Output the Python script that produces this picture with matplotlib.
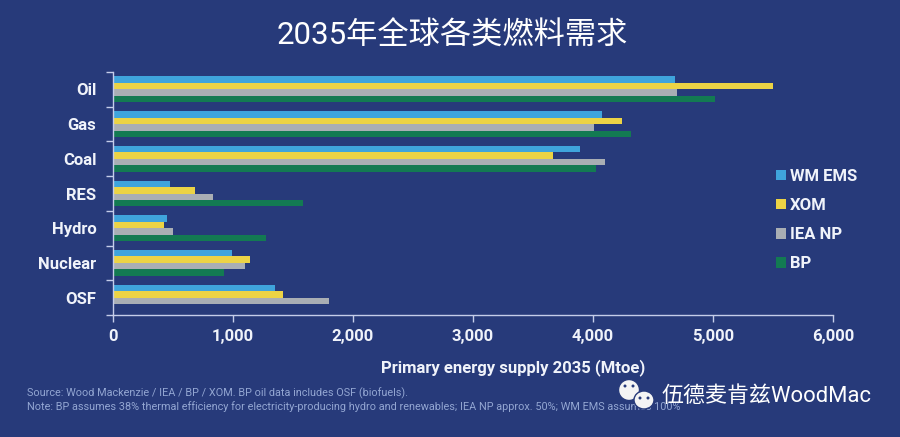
import numpy as np
import matplotlib
matplotlib.use('Agg')
import matplotlib.pyplot as plt
from matplotlib.patches import Ellipse

categories = ['Oil', 'Gas', 'Coal', 'RES', 'Hydro', 'Nuclear', 'OSF']
wm_ems = [4680, 4075, 3890, 475, 450, 992, 1350]
xom = [5500, 4240, 3670, 683, 429, 1142, 1417]
iea_np = [4700, 4008, 4100, 833, 504, 1096, 1800]
bp = [5017, 4317, 4025, 1583, 1275, 925, 0]
xticks = [0, 1000, 2000, 3000, 4000, 5000, 6000]

series = [('WM EMS', wm_ems, '#3fa4dc'), ('XOM', xom, '#ecd345'),
          ('IEA NP', iea_np, '#a9aeb4'), ('BP', bp, '#137a52')]

bg = '#273a7a'
fg = '#f0f3fa'
axis_col = '#c5cdea'
note_col = '#93a6d2'

plt.rcParams['font.family'] = ['Roboto', 'Noto Sans CJK SC', 'DejaVu Sans']

fig = plt.figure(figsize=(9, 4.37), dpi=100, facecolor=bg)
ax = fig.add_axes([113 / 900, 1 - 315 / 437, 720 / 900, 243 / 437], facecolor=bg)

y = np.arange(len(categories)) + 0.5
h = 0.187
for i, (name, vals, col) in enumerate(series):
    ax.barh(y + (i - 1.5) * h, vals, height=h, color=col, label=name)

ax.set_xlim(0, 6000)
ax.set_ylim(len(categories), 0)
ax.set_xticks(xticks)
ax.set_xticklabels([f'{v:,}' for v in xticks], fontsize=12, fontweight='bold', color=fg)
ax.set_yticks(np.arange(len(categories) + 1))
ax.set_yticklabels([])
ax.set_yticks(y, minor=True)
ax.set_yticklabels(categories, minor=True, fontsize=12, fontweight='bold', color=fg)
ax.tick_params(axis='y', which='major', length=5, color=axis_col, width=1)
ax.tick_params(axis='y', which='minor', length=0, pad=12)
ax.tick_params(axis='x', length=5, color=axis_col, width=1, pad=5)
for s in ['top', 'right']:
    ax.spines[s].set_visible(False)
for s in ['left', 'bottom']:
    ax.spines[s].set_color(axis_col)
    ax.spines[s].set_linewidth(1)

fig.text(452 / 900, 1 - 36 / 437, '2035年全球各类燃料需求', color='white', fontsize=22.5,
         ha='center', va='center')
fig.text(513 / 900, 1 - 368 / 437, 'Primary energy supply 2035 (Mtoe)', color=fg, fontsize=12,
         fontweight='bold', ha='center', va='center')
fig.text(27 / 900, 1 - 393 / 437, 'Source: Wood Mackenzie / IEA / BP / XOM. BP oil data includes OSF (biofuels).',
         color=note_col, fontsize=7.8, va='center')
fig.text(27 / 900, 1 - 407 / 437,
         'Note: BP assumes 38% thermal efficiency for electricity-producing hydro and renewables; '
         'IEA NP approx. 50%; WM EMS assumes 100%',
         color=note_col, fontsize=7.8, va='center')

leg = fig.legend(loc='upper left', bbox_to_anchor=(776 / 900, 1 - 169 / 437), frameon=False,
                 handlelength=0.58, handleheight=0.58, handletextpad=0.25, borderpad=0,
                 borderaxespad=0, labelspacing=0.85, labelcolor=fg,
                 prop={'weight': 'bold', 'size': 12})

# watermark icon, two bubbles with eyes
for cx, cy, rx, ry in [(629, 390, 10.5, 10.5), (644, 400, 10, 9)]:
    fig.add_artist(Ellipse((cx / 900, 1 - cy / 437), 2 * rx / 900, 2 * ry / 437,
                           facecolor='#f4f4f4', edgecolor=bg, linewidth=1,
                           transform=fig.transFigure, zorder=5))
for cx, cy in [(625, 386), (633, 386), (640, 398), (648, 398)]:
    fig.add_artist(Ellipse((cx / 900, 1 - cy / 437), 3 / 900, 3 / 437,
                           facecolor=bg, edgecolor='none',
                           transform=fig.transFigure, zorder=6))
fig.text(661 / 900, 1 - 396 / 437, '伍德麦肯兹WoodMac', color='white', fontsize=15.8,
         va='center', zorder=6)

fig.savefig('out.png', dpi=100, facecolor=bg)
